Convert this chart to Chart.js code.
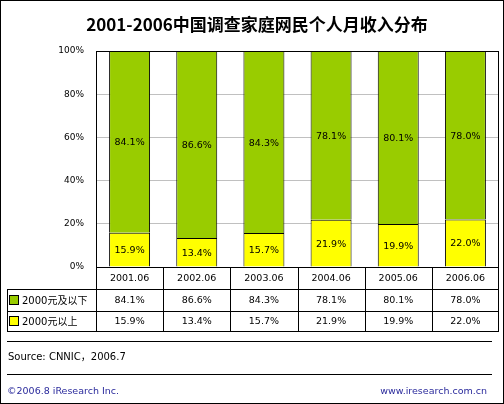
<!DOCTYPE html>
<html><head><meta charset="utf-8">
<script src="https://cdn.jsdelivr.net/npm/chart.js@4"></script>
<style>html,body{margin:0;padding:0;background:#fff;overflow:hidden}#wrap{width:504px;height:404px;position:relative}canvas{display:block}</style>
</head><body>
<div id="wrap"><canvas id="c"></canvas></div>
<script>
const titleText = '2001-2006中国调查家庭网民个人月收入分布';
const categories = ['2001.06','2002.06','2003.06','2004.06','2005.06','2006.06'];
const seriesNames = ['2000元及以下','2000元以上'];
const belowValues = [84.1,86.6,84.3,78.1,80.1,78.0];
const aboveValues = [15.9,13.4,15.7,21.9,19.9,22.0];
const yTickStep = 20;
const yMax = 100;
const sourceText = 'Source: CNNIC，2006.7';
const copyrightText = '©2006.8 iResearch Inc.';
const siteText = 'www.iresearch.com.cn';

const GREEN = '#99CC00', YELLOW = '#FFFF00';
const NUM_FONT = '9.5px "DejaVu Sans"';

function hline(ctx,x1,x2,y){ctx.beginPath();ctx.moveTo(x1,Math.round(y)+0.5);ctx.lineTo(x2,Math.round(y)+0.5);ctx.stroke();}
function vline(ctx,x,y1,y2){ctx.beginPath();ctx.moveTo(Math.round(x)+0.5,y1);ctx.lineTo(Math.round(x)+0.5,y2);ctx.stroke();}

const extras = {
  id:'extras',
  afterDatasetsDraw(chart){
    const ctx = chart.ctx;
    ctx.save();
    ctx.font = NUM_FONT; ctx.fillStyle='#000'; ctx.textAlign='center'; ctx.textBaseline='middle';
    chart.data.datasets.forEach((ds,di)=>{
      chart.getDatasetMeta(di).data.forEach((bar,i)=>{
        ctx.fillText(ds.data[i].toFixed(1)+'%', bar.x, (bar.y+bar.base)/2+1);
      });
    });
    ctx.restore();
  },
  afterDraw(chart){
    const ctx = chart.ctx, a = chart.chartArea;
    ctx.save();
    ctx.strokeStyle='#000'; ctx.lineWidth=1;
    // plot border
    ctx.strokeRect(Math.round(a.left)+0.5, Math.round(a.top)+0.5, Math.round(a.right-a.left)-1, Math.round(a.bottom-a.top));
    // table
    const n = categories.length, cw = (a.right-a.left)/n;
    const tL = 7, b = Math.round(a.bottom);
    const r1 = b+22, r2 = b+44, r3 = b+64;
    hline(ctx,tL,a.right,r1); hline(ctx,tL,a.right,r2); hline(ctx,tL,a.right,r3);
    vline(ctx,tL,r1,r3+1);
    for(let k=0;k<=n;k++){ let x=a.left+k*cw; if(k===n) x=a.right-1; vline(ctx,x,b,r3+1); }
    ctx.fillStyle='#000'; ctx.textAlign='center'; ctx.textBaseline='middle'; ctx.font=NUM_FONT;
    const rowsData = [belowValues, aboveValues];
    const rowColors = [GREEN, YELLOW];
    categories.forEach((c,i)=>{
      const cx = a.left+cw*(i+0.5);
      ctx.fillText(c, cx, b+11.5);
      ctx.fillText(rowsData[0][i].toFixed(1)+'%', cx, r1+11.5);
      ctx.fillText(rowsData[1][i].toFixed(1)+'%', cx, r2+10.5);
    });
    [[r1,r2],[r2,r3]].forEach((rr,j)=>{
      const cy = (rr[0]+rr[1])/2;
      ctx.fillStyle=rowColors[j];
      ctx.fillRect(9, Math.round(cy-5), 10, 10);
      ctx.strokeRect(9.5, Math.round(cy-5)+0.5, 9, 9);
      ctx.fillStyle='#000'; ctx.textAlign='left';
      ctx.font='10px "DejaVu Sans", "Noto Sans CJK SC"';
      ctx.fillText(seriesNames[j], 22, cy+1);
    });
    // title
    ctx.textAlign='center'; ctx.font='bold 17px "Noto Sans CJK SC"'; ctx.fillStyle='#000';
    ctx.fillText(titleText, 257, 25);
    // separators
    hline(ctx,7,492,341); hline(ctx,7,492,374);
    ctx.textAlign='left'; ctx.font='10px "DejaVu Sans", "Noto Sans CJK SC"'; ctx.fillStyle='#000';
    ctx.fillText(sourceText, 8, 357.5);
    ctx.fillStyle='#2a2a9c'; ctx.font='9.5px "DejaVu Sans"';
    ctx.fillText(copyrightText, 7, 392);
    ctx.textAlign='right';
    ctx.fillText(siteText, 487, 392);
    // outer frame
    ctx.strokeStyle='#000';
    ctx.strokeRect(0.5,0.5,503,403);
    ctx.restore();
  }
};

new Chart(document.getElementById('c'), {
  type:'bar',
  data:{
    labels: categories,
    datasets:[
      {label:seriesNames[1], data:aboveValues, backgroundColor:YELLOW, borderColor:'#000', borderWidth:1, categoryPercentage:1, barPercentage:0.61},
      {label:seriesNames[0], data:belowValues, backgroundColor:GREEN, borderColor:'#000', borderWidth:1, categoryPercentage:1, barPercentage:0.61}
    ]
  },
  options:{
    responsive:true, maintainAspectRatio:false, animation:false, devicePixelRatio:1,
    layout:{padding:{left:0,right:5,top:51,bottom:137}},
    plugins:{legend:{display:false}, tooltip:{enabled:false}, title:{display:false}},
    scales:{
      x:{stacked:true, display:false},
      y:{stacked:true, min:0, max:yMax,
         ticks:{stepSize:yTickStep, color:'#000', font:{family:'DejaVu Sans', size:9}, padding:12, callback:v=>v+'%'},
         grid:{color:'#c0c0c0', drawTicks:false},
         border:{display:false},
         afterFit(s){ s.width = 96; }
      }
    }
  },
  plugins:[extras]
});
</script>
</body></html>
